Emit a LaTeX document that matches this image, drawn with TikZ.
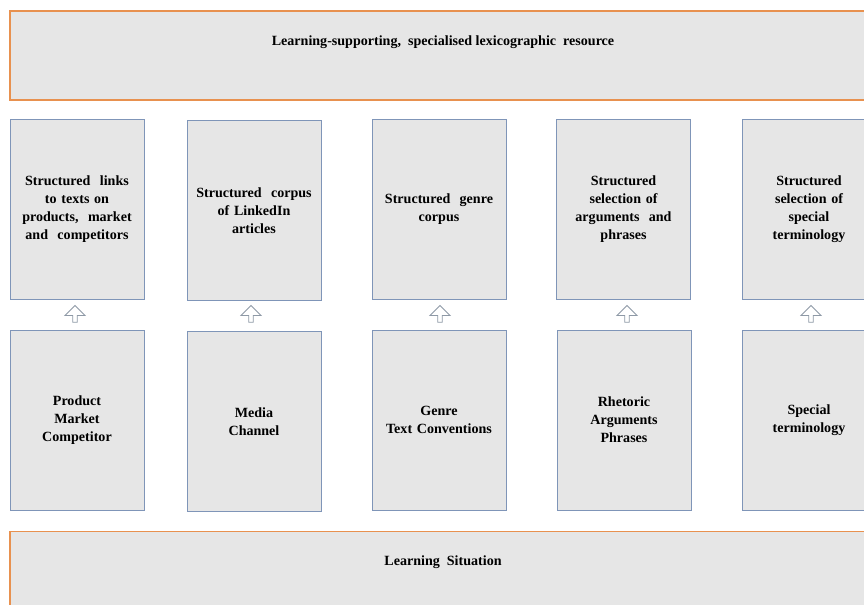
\documentclass[tikz,border=0pt]{standalone}
\usepackage{fontspec}
\setmainfont{Liberation Serif}
\usepackage{xcolor}
\usetikzlibrary{shapes.arrows, positioning}

\definecolor{boxgray}{HTML}{E6E6E6}
\definecolor{rimorange}{HTML}{E8914F}
\definecolor{rimblue}{HTML}{7F95B8}
\definecolor{arrowgray}{HTML}{8E99A6}

\tikzset{
    widebox/.style={rectangle, draw=rimorange, fill=boxgray, line width=0.9pt,
        minimum width=21.75cm, minimum height=2.22cm},
    topicbox/.style={rectangle, draw=rimblue, fill=boxgray, line width=0.6pt,
        minimum width=3.35cm, minimum height=4.5cm, text width=3cm, align=center,
        font=\bfseries\fontsize{10}{12.8}\selectfont},
    boxtext/.style={align=center, font=\bfseries\fontsize{10}{12.8}\selectfont},
    uparrow/.style={single arrow, draw=arrowgray, fill=white, line width=0.6pt,
        shape border rotate=90, minimum height=0.42cm, minimum width=0.5cm,
        single arrow head extend=0.1cm, inner sep=0.5pt}
}

\begin{document}
\begin{tikzpicture}[x=0.025cm, y=-0.025cm]
        \useasboundingbox (0, 0) rectangle (864, 605);
        \clip (0, 0) rectangle (864, 605);

        % top and bottom bands
        \node[widebox] at (445, 55.5) (res) {};
        \node[boxtext] at (443, 42) (resText) {Learning-supporting,~ specialised lexicographic~ resource};
        \node[widebox] at (445, 576) (sit) {};
        \node[boxtext] at (443, 562) (sitText) {Learning~ Situation};

        % upper row
        \node[topicbox] at (77, 209) (links) {Structured~ links\\to texts on\\products,~ market\\and~ competitors};
        \node[topicbox] at (254, 210.5) (corpus) {Structured~ corpus\\of LinkedIn\\articles};
        \node[topicbox] at (439, 209) (genreCorpus) {Structured~ genre\\corpus};
        \node[topicbox] at (623.5, 209.5) (args) {Structured\\selection of\\arguments~ and\\phrases};
        \node[topicbox] at (809, 209.5) (terms) {Structured\\selection of\\special\\terminology};

        % lower row
        \node[topicbox] at (77, 420) (product) {Product\\Market\\Competitor};
        \node[topicbox] at (254, 421.5) (media) {Media\\Channel};
        \node[topicbox] at (439, 420) (genre) {Genre\\Text Conventions};
        \node[topicbox] at (624, 420) (rhetoric) {Rhetoric\\Arguments\\Phrases};
        \node[topicbox] at (809, 420.5) (special) {Special\\terminology};

        % hollow arrows
        \node[uparrow] at (75, 315) (upA) {};
        \node[uparrow] at (251, 315) (upB) {};
        \node[uparrow] at (440, 315) (upC) {};
        \node[uparrow] at (627, 315) (upD) {};
        \node[uparrow] at (811, 315) (upE) {};
    \end{tikzpicture}
\end{document}
